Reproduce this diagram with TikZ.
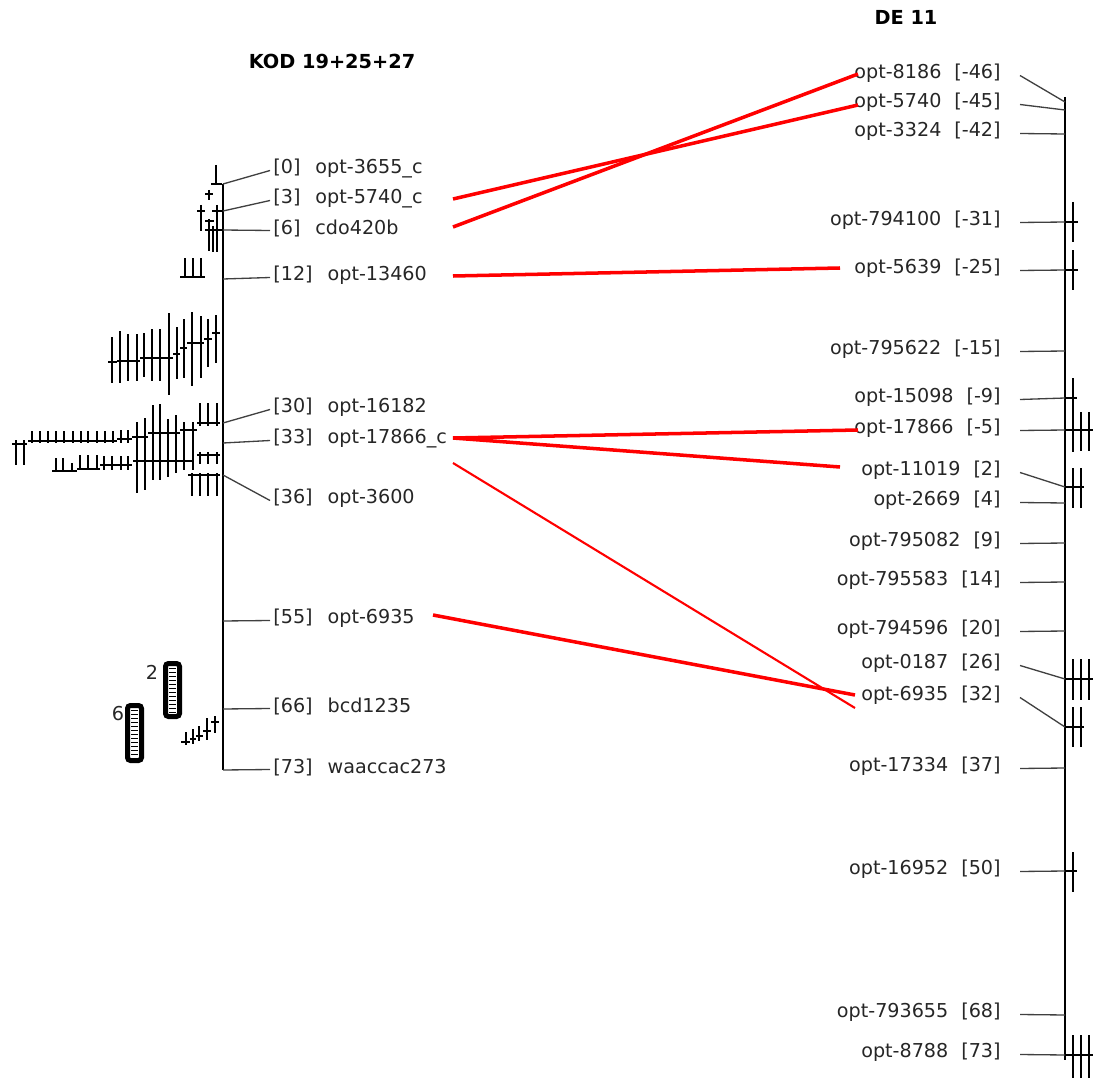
\documentclass[tikz,border=0pt]{standalone}
\usepackage{fontspec}
\setmainfont{DejaVu Sans}

\begin{document}
\begin{tikzpicture}[
    x=0.02cm, y=-0.02cm,
    every node/.style={font=\fontsize{10.9}{12}\selectfont, text=black!85},
    title/.style={font=\fontsize{11}{13}\selectfont\bfseries, text=black},
    lbl/.style={anchor=west, inner xsep=0.06cm, inner ysep=0pt},
    rlbl/.style={anchor=east, inner xsep=0.38cm, inner ysep=0pt},
    axis/.style={line width=0.9pt},
    link/.style={line width=0.75pt, black!75},
    tickbar/.style={line width=0.85pt},
    hit/.style={line width=2pt, red},
    hitthin/.style={line width=1.2pt, red},
    bin/.style={line width=0.1cm, rounded corners=0.06cm},
    stripe/.style={line width=0.45pt}
]
\useasboundingbox (0,0) rectangle (1093,1078);

\node[title] (kodt) at (332,61) {KOD 19+25+27};
\node[title] (det) at (906,17) {DE 11};

\coordinate (ktop) at (223,184);
\coordinate (kbot) at (223,770);
\coordinate (dtop) at (1065,97);
\coordinate (dbot) at (1065,1060);
\draw[axis] (ktop) -- (kbot);
\draw[axis] (dtop) -- (dbot);

\foreach \nm/\y/\a/\lab in {0/168/184/opt-3655\_c, 3/198/211/opt-5740\_c, 6/228/230/cdo420b,
    12/275/279/opt-13460, 30/407/423/opt-16182, 33/438/443/opt-17866\_c, 36/498/475/opt-3600,
    55/618/621/opt-6935, 66/706/709/bcd1235, 73/767/770/waaccac273}{
  \node[lbl] (k\nm) at (270,\y) {[\nm]\hspace{0.3cm}\lab};
  \coordinate (ka\nm) at (223,\a);
  \draw[link] (ka\nm) -- ([yshift=-0.05cm]k\nm.west);
}

\foreach \nm/\y/\a/\lab [count=\i] in {-46/73/102/opt-8186, -45/102/110/opt-5740, -42/131/134/opt-3324,
    -31/220/222/opt-794100, -25/268/270/opt-5639, -15/349/351/opt-795622, -9/397/398/opt-15098,
    -5/428/430/opt-17866, 2/470/487/opt-11019, 4/500/503/opt-2669, 9/541/543/opt-795082,
    14/580/582/opt-795583, 20/629/631/opt-794596, 26/663/679/opt-0187, 32/695/727/opt-6935,
    37/766/768/opt-17334, 50/869/871/opt-16952, 68/1012/1015/opt-793655, 73/1052/1055/opt-8788}{
  \node[rlbl] (r\i) at (1020,\y) {\lab\hspace{0.26cm}[\nm]};
  \coordinate (ra\i) at (1065,\a);
  \draw[link] ([yshift=-0.05cm]r\i.east) -- (ra\i);
}

% marker bars along the two maps
\foreach \x/\a/\b in {216/165/185, 209/190/200, 201/205/231, 217/205/252, 209/219/251, 213/226/252,
    185/258/277, 193/258/277, 201/258/277,
    112/337/383, 120/331/383, 128/334/381, 137/334/381, 144/333/377, 152/329/381, 160/329/381,
    169/313/395, 177/327/379, 184/319/378, 192/312/386, 201/316/378, 208/319/367, 216/315/363,
    16/440/465, 24/440/465, 32/431/443, 40/431/443, 48/431/443, 56/431/443, 64/431/443, 73/431/443,
    81/431/443, 88/431/443, 97/431/443, 105/431/443, 113/431/443, 121/430/443, 128/430/443,
    137/422/493, 145/418/490, 153/405/480, 160/404/480, 168/419/477, 176/415/473, 184/422/470,
    193/422/470, 200/403/426, 208/403/426, 217/403/426,
    56/458/472, 63/458/472, 72/463/472, 80/455/470, 88/455/470, 97/455/470, 104/456/470,
    112/456/470, 121/456/470, 128/456/470, 200/452/464, 208/452/464, 217/452/464,
    192/473/496, 200/473/496, 208/473/496, 217/473/496,
    186/732/745, 193/729/744, 199/726/741, 207/718/740, 215/716/733,
    1073/202/242, 1073/250/290, 1073/378/452, 1081/412/451, 1089/412/451, 1073/468/508, 1081/468/508,
    1073/659/700, 1081/659/700, 1089/659/700, 1073/707/747, 1081/707/747, 1073/852/892,
    1073/1035/1078, 1081/1035/1078, 1089/1035/1078}
  \draw[tickbar] (\x,\a) -- (\x,\b);
\foreach \a/\b/\y in {211/222/184, 205/213/194, 197/205/211, 212/222/211, 205/214/221, 205/222/230,
    180/205/277,
    108/117/362, 117/140/361, 140/173/358, 173/180/354, 180/187/348, 187/204/343, 204/212/339,
    212/220/333,
    12/27/444, 28/117/441, 117/132/439, 132/148/437, 148/180/433, 180/197/430, 197/220/423,
    52/77/471, 77/100/469, 100/132/465, 133/193/461, 197/220/455, 188/220/475,
    181/190/742, 190/196/739, 196/203/736, 203/211/731, 211/219/722,
    1065/1078/222, 1065/1078/270, 1065/1077/398, 1065/1093/430, 1065/1084/487, 1065/1093/679,
    1065/1084/727, 1065/1077/871, 1065/1093/1055}
  \draw[tickbar] (\a,\y) -- (\b,\y);

\draw[bin] (165.5,663.5) rectangle (179.5,716.5);
\foreach \y in {668,672,...,712} \draw[stripe] (169,\y) -- (176,\y);
\node (b2) at (152,672) {2};
\draw[bin] (127.5,705.5) rectangle (141.5,760.5);
\foreach \y in {710,714,...,756} \draw[stripe] (131,\y) -- (138,\y);
\node (b6) at (118,714) {6};

\coordinate (h3) at (453,199);
\coordinate (h6) at (453,227);
\coordinate (h12) at (453,276);
\coordinate (h33) at (453,438);
\coordinate (h33b) at (453,463);
\coordinate (h55) at (433,615);
\coordinate (g46) at (858,74);
\coordinate (g45) at (858,105);
\coordinate (g25) at (840,268);
\coordinate (g5) at (858,430);
\coordinate (g2) at (840,467);
\coordinate (g32a) at (855,708);
\coordinate (g32) at (855,695);
\draw[hit] (h3) -- (g45);
\draw[hit] (h6) -- (g46);
\draw[hit] (h12) -- (g25);
\draw[hit] (h33) -- (g5);
\draw[hit] (h33) -- (g2);
\draw[hitthin] (h33b) -- (g32a);
\draw[hit] (h55) -- (g32);
\end{tikzpicture}
\end{document}
